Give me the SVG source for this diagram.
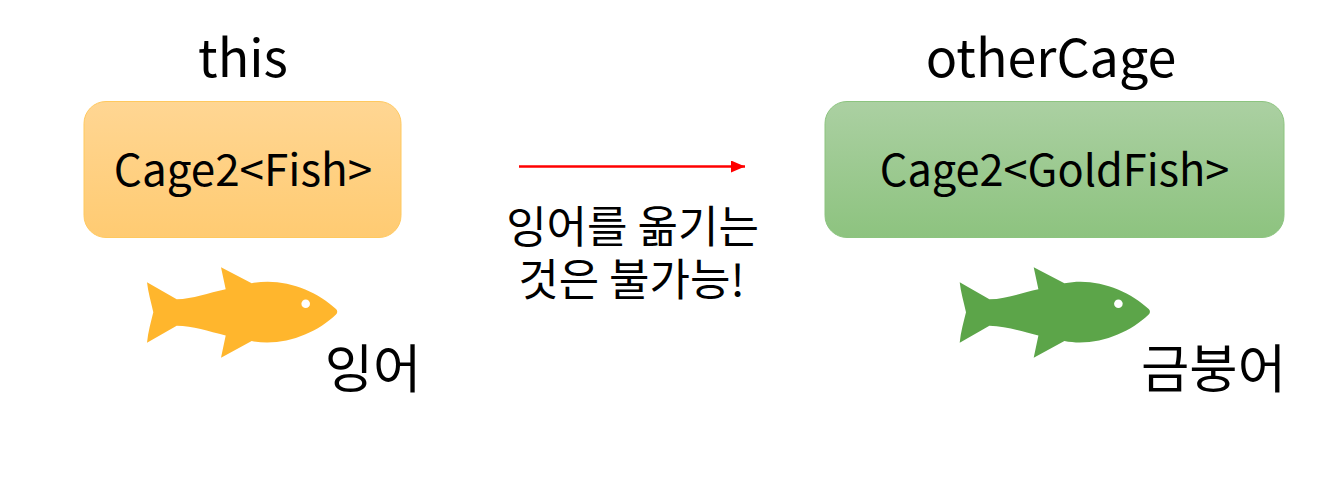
<svg xmlns="http://www.w3.org/2000/svg" width="1340" height="482" viewBox="0 0 1340 482">
<style>
text{font-family:"Noto Sans CJK KR","Noto Sans",sans-serif;fill:#000;text-anchor:middle}
.title{font-size:52px}
.cage{font-size:44px}
.name{font-size:52.500px}
.note{font-size:44px}
.eye{fill:#fff}
</style>
<defs>
<linearGradient id="orange" x1="0" y1="0" x2="0" y2="1"><stop offset="0" stop-color="#ffd693"/><stop offset="1" stop-color="#ffcb72"/></linearGradient>
<linearGradient id="green" x1="0" y1="0" x2="0" y2="1"><stop offset="0" stop-color="#abd0a2"/><stop offset="1" stop-color="#8dc37f"/></linearGradient>
<path id="fish" d="M147 282.300L176.700 299.300C193 299 208 293 225.700 289.300L221 267.300L251.700 283.300C282 277 316 290 336 309Q338.500 311.700 336 314.500C316 334 282 347 251.700 341L221 357.700L225.700 335.500C208 331 193 326 176.700 325.700L147 342.700C148 332 151 322 153.300 312.300C151 302 148 292 147 282.300Z"/>
<marker id="head" markerUnits="userSpaceOnUse" markerWidth="14" markerHeight="12" refX="14" refY="6" orient="auto"><path d="M0 0L14 6L0 12Z" fill="#f00"/></marker>
</defs>
<rect width="1340" height="482" fill="#fff"/>
<g id="connectors">
<line x1="519" y1="166.500" x2="745" y2="166.500" stroke="#f00" stroke-width="2.500" marker-end="url(#head)"/>
</g>
<g id="this-cage">
<text class="title" x="243" y="77">this</text>
<rect x="84" y="101.500" width="317" height="136" rx="22" fill="url(#orange)" stroke="#ffc95f"/>
<text class="cage" x="243" y="185.500">Cage2&lt;Fish&gt;</text>
</g>
<g id="carp">
<use href="#fish" fill="#ffb62d"/>
<circle class="eye" cx="305.700" cy="303.700" r="4.300"/>
<text class="name" x="373" y="388">잉어</text>
</g>
<g id="note">
<text class="note" x="632.500"><tspan x="632.500" y="243">잉어를 옮기는</tspan><tspan x="631.500" y="296">것은 불가능!</tspan></text>
</g>
<g id="other-cage">
<text class="title" x="1051" y="77">otherCage</text>
<rect x="825" y="101.500" width="459" height="136" rx="22" fill="url(#green)" stroke="#8cc47f"/>
<text class="cage" x="1054.500" y="185.500" style="font-size:43.300px">Cage2&lt;GoldFish&gt;</text>
</g>
<g id="goldfish">
<use href="#fish" x="812.700" fill="#5ca549"/>
<circle class="eye" cx="1118.400" cy="303.700" r="4.300"/>
<text class="name" x="1213.500" y="388">금붕어</text>
</g>
</svg>
